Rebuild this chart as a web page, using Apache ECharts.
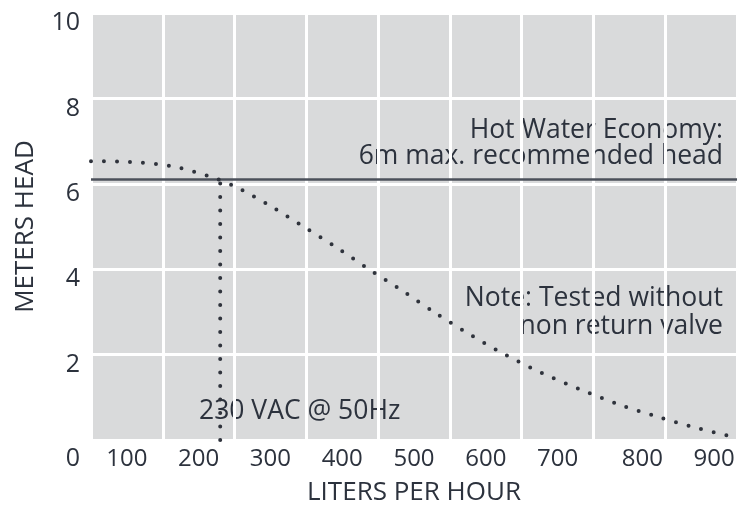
<!DOCTYPE html>
<html>
<head>
<meta charset="utf-8">
<script src="https://cdn.jsdelivr.net/npm/echarts@6/dist/echarts.min.js"></script>
<style>html,body{margin:0;padding:0;background:#fff;}#c{width:750px;height:522px;}</style>
</head>
<body>
<div id="c"></div>
<script>
const xTickLabels = ['100','200','300','400','500','600','700','800','900'];
const flowLph = [0, 54, 110, 164, 199, 248, 295, 343, 389, 436, 482, 529, 578, 628, 681, 734, 790, 844, 900];
const headM   = [6.53, 6.51, 6.42, 6.18, 5.95, 5.50, 5.01, 4.50, 3.98, 3.47, 2.95, 2.46, 1.99, 1.57, 1.19, 0.84, 0.54, 0.28, 0.05];
const maxHead = 6.1;
const opFlow = 180;

const txt = '#2c323d';
const fontFam = '"Open Sans", sans-serif';
const annFont = '26.5px ' + fontFam;
const chart = echarts.init(document.getElementById('c'));
chart.setOption({
  animation: false,
  backgroundColor: '#fff',
  grid: { left: 91, right: 13, top: 13, bottom: 82, show: true, backgroundColor: '#d9dadb', borderWidth: 0 },
  xAxis: [
    { type: 'value', min: 0, max: 900, interval: 100,
      axisLine: { show: false }, axisTick: { show: false }, axisLabel: { show: false },
      splitLine: { show: true, lineStyle: { color: '#ffffff', width: 3 } } },
    { type: 'category', data: xTickLabels, boundaryGap: true, position: 'bottom',
      axisLine: { show: false }, axisTick: { show: false }, splitLine: { show: false },
      axisLabel: { interval: 0, margin: 7, color: txt, fontSize: 24, fontFamily: fontFam,
        formatter: v => (v === '800' || v === '900') ? '{s|' + v + '}' : v,
        rich: { s: { color: txt, fontSize: 24, fontFamily: fontFam, padding: [0, 0, 0, 26] } } },
      name: 'LITERS PER HOUR', nameLocation: 'middle', nameGap: 40,
      nameTextStyle: { color: txt, fontSize: 26, fontFamily: fontFam } }
  ],
  yAxis: {
    type: 'value', min: 0, max: 10, interval: 2,
    axisLine: { show: false }, axisTick: { show: false },
    splitLine: { show: true, lineStyle: { color: '#ffffff', width: 3 } },
    axisLabel: { margin: 11, color: txt, fontSize: 25, fontFamily: fontFam,
      formatter: v => v === 0 ? '{z|0}' : '{a|' + v + '}',
      rich: { a: { color: txt, fontSize: 25, fontFamily: fontFam, padding: [20, 0, 0, 0] },
              z: { color: txt, fontSize: 25, fontFamily: fontFam, padding: [38, 0, 0, 0] } } },
    name: 'METERS HEAD', nameLocation: 'middle', nameGap: 52, nameRotate: 90,
    nameTextStyle: { color: txt, fontSize: 26, fontFamily: fontFam }
  },
  series: [
    { type: 'line', xAxisIndex: 0, data: [[0, maxHead], [900, maxHead]], symbol: 'none',
      lineStyle: { color: '#4b505a', width: 2.5 }, z: 3 },
    { type: 'line', xAxisIndex: 0, data: [[opFlow, 0], [opFlow, maxHead]], symbol: 'none',
      lineStyle: { color: '#2f333c', width: 4, type: [0, 13.5], cap: 'round' }, z: 4 },
    { type: 'line', xAxisIndex: 0, data: flowLph.map((x, i) => [x, headM[i]]), symbol: 'none', smooth: 0.3,
      lineStyle: { color: '#2f333c', width: 4, type: [0, 13], cap: 'round' }, z: 4 }
  ],
  graphic: [
    { type: 'text', style: { text: 'Hot Water Economy:', x: 723, y: 130, align: 'right', verticalAlign: 'middle', font: annFont, fill: txt } },
    { type: 'text', style: { text: '6m max. recommended head', x: 723, y: 156, align: 'right', verticalAlign: 'middle', font: annFont, fill: txt } },
    { type: 'text', style: { text: 'Note: Tested without', x: 723, y: 298, align: 'right', verticalAlign: 'middle', font: annFont, fill: txt } },
    { type: 'text', style: { text: 'non return valve', x: 723, y: 326, align: 'right', verticalAlign: 'middle', font: annFont, fill: txt } },
    { type: 'text', style: { text: '230 VAC @ 50Hz', x: 199, y: 411, align: 'left', verticalAlign: 'middle', font: annFont, fill: txt } }
  ]
});
</script>
</body>
</html>
